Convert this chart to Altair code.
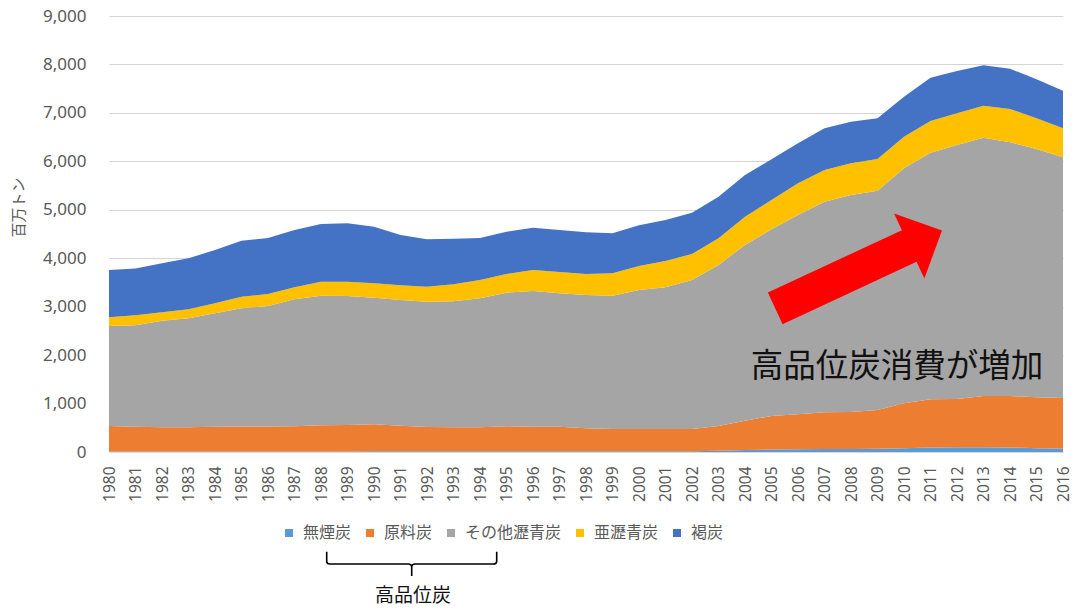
import altair as alt
import pandas as pd

# ---- data (million tonnes) ----
years = list(range(1980, 2017))

anthracite = [10, 10, 10, 10, 10, 10, 10, 10, 10, 10,
              15, 15, 15, 15, 15, 15, 15, 15, 15, 15,
              15, 15, 15, 25, 40, 50, 55, 60, 60, 65,
              75, 95, 100, 100, 95, 75, 70]

coking = [527, 513, 500, 500, 510, 515, 515, 520, 540, 545,
          557, 528, 501, 495, 495, 515, 508, 508, 474, 460,
          460, 460, 460, 512, 606, 693, 723, 759, 766, 802,
          930, 993, 994, 1056, 1061, 1054, 1045]

other_bituminous = [2063, 2092, 2201, 2250, 2343, 2441, 2489, 2622, 2677, 2665,
                    2614, 2595, 2587, 2600, 2662, 2759, 2801, 2753, 2752, 2752,
                    2869, 2925, 3076, 3323, 3627, 3854, 4115, 4348, 4479, 4528,
                    4852, 5091, 5244, 5333, 5237, 5126, 4969]

sub_bituminous = [180, 207, 173, 186, 207, 240, 248, 248, 289, 296,
                  296, 303, 310, 352, 379, 386, 433, 440, 434, 462,
                  496, 543, 537, 551, 585, 605, 654, 655, 655, 654,
                  652, 654, 654, 660, 688, 634, 598]

lignite = [977, 968, 1011, 1052, 1100, 1156, 1156, 1183, 1191, 1205,
           1170, 1039, 978, 942, 867, 873, 874, 867, 860, 825,
           840, 846, 853, 859, 860, 840, 825, 860, 859, 840,
           826, 894, 874, 834, 832, 804, 777]

series_names = ["無煙炭", "原料炭", "その他瀝青炭", "亜瀝青炭", "褐炭"]
series_colors = ["#5B9BD5", "#ED7D31", "#A5A5A5", "#FFC000", "#4472C4"]
y_ticks = [0, 1000, 2000, 3000, 4000, 5000, 6000, 7000, 8000, 9000]

annotation_main = "高品位炭消費が増加"
annotation_bracket = "高品位炭"
y_title = "百万トン"

rows = []
for i, (name, vals) in enumerate(zip(series_names,
                                     [anthracite, coking, other_bituminous,
                                      sub_bituminous, lignite])):
    for yr, v in zip(years, vals):
        rows.append({"year": yr, "series": name, "value": v, "order": i})
df = pd.DataFrame(rows)

GRAY = "#595959"
NUM_FONT = "Noto Sans"
JP_FONT = "Noto Sans CJK JP"

area = alt.Chart(df).mark_area(interpolate="linear", opacity=1).encode(
    x=alt.X("year:Q",
            scale=alt.Scale(domain=[1980, 2016], nice=False, zero=False),
            axis=alt.Axis(values=years, format="d", labelAngle=270,
                          labelAlign="right", labelBaseline="middle",
                          labelPadding=14, ticks=False, grid=False,
                          domainColor="#d9d9d9", labelFlush=False,
                          labelOverlap=False, labelFont=NUM_FONT,
                          labelFontSize=15.5, labelColor=GRAY, title=None)),
    y=alt.Y("value:Q", stack="zero",
            scale=alt.Scale(domain=[0, 9000], nice=False),
            axis=alt.Axis(values=y_ticks, format=",.0f", ticks=False, domain=False,
                          gridColor="#d4d4d4", gridWidth=1,
                          labelPadding=23, labelFont=NUM_FONT, labelFontSize=17,
                          labelColor=GRAY, title=y_title, titleAngle=270,
                          titleAlign="center", titleBaseline="middle",
                          titleX=-90.5, titleY=191, titleFont=JP_FONT,
                          titleFontSize=15, titleFontWeight="normal",
                          titleColor=GRAY)),
    color=alt.Color("series:N",
                    scale=alt.Scale(domain=series_names, range=series_colors),
                    legend=alt.Legend(orient="none", legendX=172, legendY=509,
                                      direction="horizontal", columns=5,
                                      title=None, symbolType="square",
                                      symbolSize=64, symbolStrokeWidth=0,
                                      labelFont=JP_FONT, labelFontSize=16,
                                      labelColor=GRAY, labelOffset=6,
                                      columnPadding=10, padding=0,
                                      labelLimit=300)),
    order=alt.Order("order:Q", sort="ascending"),
)

one = alt.Data(values=[{"k": 1}])

ARROW = "M -1 -0.189 L 0.607 -0.189 L 0.607 -0.39 L 1 0 L 0.607 0.39 L 0.607 0.189 L -1 0.189 Z"
arrow = alt.Chart(one).mark_point(shape=ARROW, size=33856, filled=True,
                                  color="#FF0000", strokeWidth=0, opacity=1,
                                  angle=335).encode(
    x=alt.value(749.6), y=alt.value(253.5))

main_text = alt.Chart(one).mark_text(text=annotation_main, font=JP_FONT,
                                     fontSize=32.5, color="#111111",
                                     align="center", baseline="middle").encode(
    x=alt.value(788), y=alt.value(351))

BRACKET = ("M -1 -0.145 L -1 -0.03 Q -1 0 -0.96 0 L -0.04 0 Q 0 0 0 0.04 L 0 0.141 "
           "M 0 0.04 Q 0 0 0.04 0 L 0.96 0 Q 1 0 1 -0.03 L 1 -0.145")
bracket = alt.Chart(one).mark_point(shape=BRACKET, size=28900, filled=False,
                                    color="#000000", strokeWidth=1.6,
                                    opacity=1).encode(
    x=alt.value(302.7), y=alt.value(548))

bracket_text = alt.Chart(one).mark_text(text=annotation_bracket, font=JP_FONT,
                                        fontSize=19, color="#111111",
                                        align="center", baseline="middle").encode(
    x=alt.value(304), y=alt.value(580))

chart = alt.layer(area, arrow, main_text, bracket, bracket_text).properties(
    width=954, height=436,
    padding={"left": 101, "top": 8, "right": 8, "bottom": 154},
    autosize=alt.AutoSizeParams(type="none"),
).configure_view(strokeWidth=0)

chart.save("out.html", embed_options={"renderer": "svg", "actions": False})
